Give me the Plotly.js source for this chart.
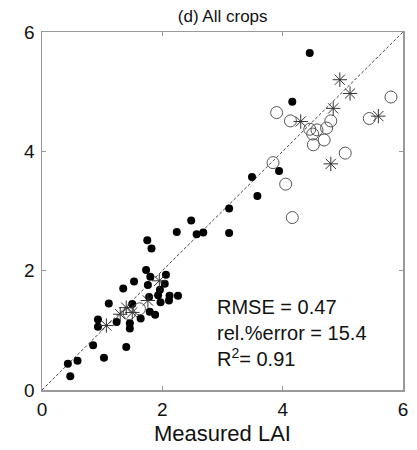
<!DOCTYPE html>
<html>
<head>
<meta charset="utf-8">
<script src="https://cdn.plot.ly/plotly-3.0.1.min.js"></script>
<style>html,body{margin:0;padding:0;background:#fff;}#chart{width:417px;height:450px;}</style>
</head>
<body>
<div id="chart"></div>
<script>
// Filled dots (measured LAI, estimated LAI)
const dotsX = [0.43,0.59,0.47,1.03,0.85,1.40,0.93,0.93,1.24,1.46,1.46,1.64,1.88,1.79,1.11,1.50,1.97,2.11,1.78,1.93,2.12,2.26,1.96,1.35,1.76,2.04,1.53,1.80,2.06,1.73,1.82,1.75,2.24,2.57,2.68,3.11,2.48,3.11,3.58,3.49,3.94,4.16,4.45];
const dotsY = [0.44,0.49,0.23,0.54,0.75,0.72,1.18,1.06,1.14,1.12,1.03,1.20,1.26,1.31,1.45,1.44,1.47,1.50,1.56,1.59,1.58,1.58,1.68,1.70,1.76,1.78,1.82,1.90,1.93,2.01,2.37,2.51,2.65,2.61,2.64,2.63,2.84,3.04,3.25,3.57,3.67,4.83,5.65];
// Open circles
const circX = [5.80,3.90,4.13,5.44,4.80,4.73,4.45,4.57,4.50,4.69,4.51,5.04,3.84,4.05,4.16,1.45,1.62];
const circY = [4.91,4.65,4.51,4.55,4.51,4.39,4.37,4.36,4.29,4.19,4.11,3.97,3.81,3.45,2.89,1.28,1.36];
// Asterisks
const starX = [4.95,5.12,4.84,4.30,5.59,4.80,1.07,1.30,1.40,1.50,1.76,1.95];
const starY = [5.20,4.97,4.72,4.50,4.59,3.79,1.08,1.27,1.38,1.30,1.50,1.83];
// 1:1 line
const lineX = [0,6];
const lineY = [0,6];
const tickVals = [0,2,4,6];
const tickText = ['0','2','4','6'];
const titleText = '(d) All crops';
const xTitle = 'Measured LAI';
const statsText = ['RMSE = 0.47','rel.%error = 15.4','R<sup>2</sup>= 0.91'];
const statsY = [1.39,0.955,0.553];

const FONT = 'Liberation Sans, Arial, sans-serif';

const traces = [
  {x: lineX, y: lineY, mode: 'lines', line: {color: '#444', width: 1, dash: '3px,2px'}, hoverinfo: 'skip'},
  {x: dotsX, y: dotsY, mode: 'markers', marker: {symbol: 'circle', size: 8, color: '#000'}},
  {x: circX, y: circY, mode: 'markers', marker: {symbol: 'circle-open', size: 12, color: '#555', line: {width: 1, color: '#555'}}},
  {x: starX, y: starY, mode: 'markers', marker: {symbol: 'asterisk-open', size: 12, color: '#333', line: {width: 1, color: '#333'}}}
];

const axisCommon = {
  range: [0, 6], tickvals: tickVals, ticktext: tickText,
  showgrid: false, zeroline: false, showline: true, mirror: 'ticks',
  linecolor: '#999', linewidth: 1.5, ticks: 'inside', ticklen: 4, tickcolor: '#999',
  tickfont: {family: FONT, size: 19, color: '#111'}, fixedrange: true
};

const layout = {
  width: 417, height: 450,
  margin: {l: 42, r: 14, t: 32, b: 60},
  paper_bgcolor: '#fff', plot_bgcolor: '#fff',
  showlegend: false,
  title: {text: titleText, font: {family: FONT, size: 17, color: '#111'}, x: 0.534, xanchor: 'center', y: 0.965, yanchor: 'middle'},
  xaxis: Object.assign({}, axisCommon, {title: {text: xTitle, font: {family: FONT, size: 22, color: '#111'}, standoff: 6}, ticklabelstandoff: 2}),
  yaxis: Object.assign({}, axisCommon, {ticklabelstandoff: 2}),
  annotations: statsText.map((t, i) => ({
    x: 2.87, y: statsY[i], xref: 'x', yref: 'y', text: t, showarrow: false,
    xanchor: 'left', yanchor: 'middle', font: {family: FONT, size: 20, color: '#111'}
  }))
};

Plotly.newPlot('chart', traces, layout, {displayModeBar: false, staticPlot: true});
</script>
</body>
</html>
